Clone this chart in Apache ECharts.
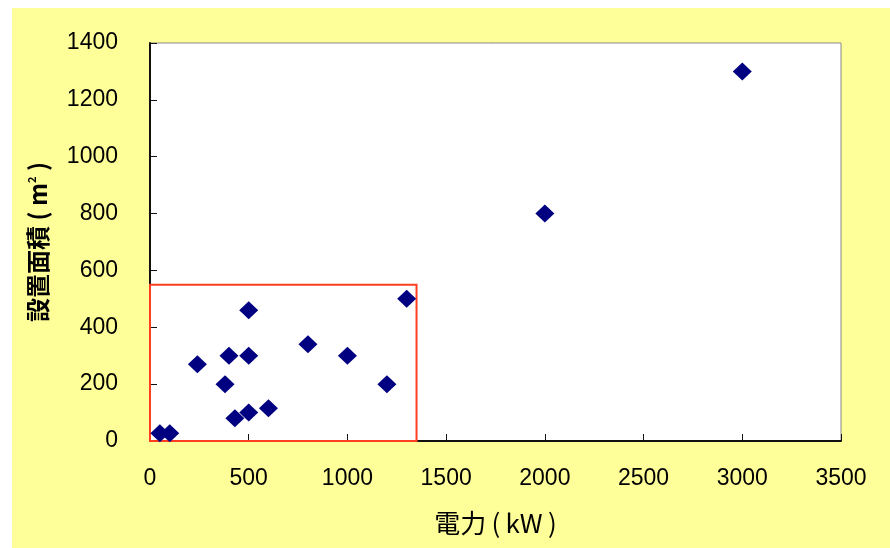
<!DOCTYPE html>
<html>
<head>
<meta charset="utf-8">
<title>設置面積と電力</title>
<script src="https://cdn.jsdelivr.net/npm/echarts@6/dist/echarts.min.js"></script>
<style>
  html,
  body {
    margin: 0;
    padding: 0;
    background: #fff;
  }

  /* 図形 */
  #chart {
    position: absolute;
    left: 12px;
    top: 8px;
    width: 878px;
    height: 540px;
  }
</style>
</head>
<body>
<div id="chart"></div>
<script>
// 電力 [kW]
const powerKW = [50, 100, 240, 380, 400, 500, 500, 430, 500, 600, 800, 1000, 1200, 1300, 2000, 3000]
// 設置面積 [m2]
const areaM2 = [27, 27, 270, 200, 300, 300, 460, 80, 100, 115, 340, 300, 200, 500, 800, 1300]

// 赤枠の範囲
const boxFrom = [0, 0]
const boxTo = [1350, 550]

const xTicks = { min: 0, max: 3500, interval: 500 }
const yTicks = { min: 0, max: 1400, interval: 200 }

const FONT = 'Liberation Sans, Arial, sans-serif'
const CJK_FONT = '"Noto Sans CJK JP", sans-serif'
const THIN = '\u2009'

const points = powerKW.map((x, i) => [x, areaM2[i]])

const myChart = echarts.init(document.getElementById('chart'))
myChart.setOption({
  backgroundColor: '#ffff99',
  animation: false,
  /* 直角坐标系 */
  grid: {
    left: 138,
    top: 35,
    right: 49,
    bottom: 107,
    show: true,
    backgroundColor: '#fff',
    borderColor: '#888',
    borderWidth: 1
  },
  xAxis: {
    type: 'value',
    min: xTicks.min,
    max: xTicks.max,
    interval: xTicks.interval,
    name: '電力' + THIN + '(' + THIN + 'kW' + THIN + ')',
    nameLocation: 'middle',
    nameGap: 69,
    nameTextStyle: { fontFamily: CJK_FONT, fontSize: 26, color: '#000' },
    axisLine: { lineStyle: { color: '#111', width: 2 } },
    axisTick: { inside: true, length: 7, lineStyle: { color: '#111' } },
    axisLabel: {
      fontFamily: FONT,
      fontSize: 23,
      color: '#000',
      margin: 26,
      formatter: v => String(v)
    },
    splitLine: { show: false }
  },
  yAxis: {
    type: 'value',
    min: yTicks.min,
    max: yTicks.max,
    interval: yTicks.interval,
    name: '設置面積 ( m{sup|2} )',
    nameLocation: 'middle',
    nameGap: 100,
    nameTextStyle: {
      fontFamily: CJK_FONT,
      fontSize: 24,
      fontWeight: 'bold',
      color: '#000',
      rich: {
        sup: { fontSize: 11, verticalAlign: 'top', padding: [0, 0, 12, 0] }
      }
    },
    axisLine: { lineStyle: { color: '#111', width: 2 } },
    axisTick: { inside: true, length: 7, lineStyle: { color: '#111' } },
    axisLabel: {
      fontFamily: FONT,
      fontSize: 23,
      color: '#000',
      margin: 32,
      formatter: v => String(v)
    },
    splitLine: { show: false }
  },
  series: [
    {
      type: 'scatter',
      symbol: 'diamond',
      symbolSize: [19, 18],
      itemStyle: { color: '#000080', opacity: 1 },
      data: points,
      /* 赤枠 */
      markArea: {
        silent: true,
        itemStyle: {
          color: 'rgba(0,0,0,0)',
          borderColor: '#ff3d1f',
          borderWidth: 2
        },
        data: [[{ coord: boxFrom }, { coord: boxTo }]]
      }
    }
  ]
})
</script>
</body>
</html>
